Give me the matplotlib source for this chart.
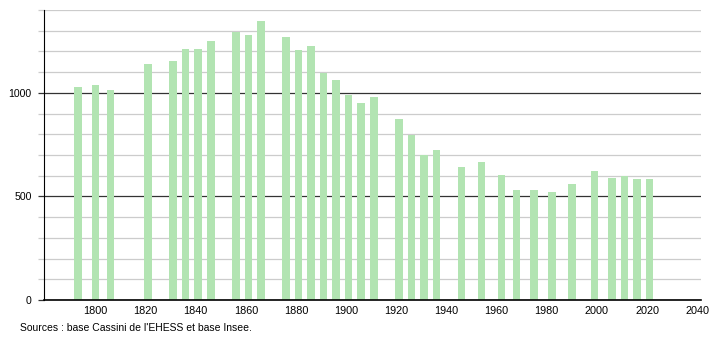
import matplotlib
matplotlib.use('Agg')
import matplotlib.pyplot as plt
from matplotlib.ticker import MultipleLocator

# Census years and population
years = [1793, 1800, 1806, 1821, 1831, 1836, 1841, 1846, 1856, 1861, 1866,
         1876, 1881, 1886, 1891, 1896, 1901, 1906, 1911, 1921, 1926, 1931,
         1936, 1946, 1954, 1962, 1968, 1975, 1982, 1990, 1999, 2006, 2011,
         2016, 2021]
population = [1029, 1040, 1013, 1137, 1156, 1213, 1213, 1248, 1292, 1277, 1345,
              1268, 1205, 1224, 1097, 1060, 992, 950, 982, 876, 798, 700,
              726, 642, 668, 605, 532, 532, 519, 558, 621, 590, 601,
              585, 585]

x_ticks = list(range(1800, 2041, 20))
y_ticks = [0, 500, 1000]
source = "Sources : base Cassini de l'EHESS et base Insee."

plt.rcParams['font.family'] = ['Liberation Sans', 'DejaVu Sans']

fig = plt.figure(figsize=(7.1, 3.4), dpi=100)
ax = fig.add_axes([44/710, 40/340, 657/710, 290/340])

ax.bar(years, population, width=3.0, color='#b2e4b2', zorder=2)

ax.set_xlim(1779.5, 2041.5)
ax.set_ylim(0, 1400)

# grid: light every 100, dark every 500
ax.yaxis.set_major_locator(MultipleLocator(500))
ax.yaxis.set_minor_locator(MultipleLocator(100))
ax.grid(True, which='minor', axis='y', color='#cccccc', linewidth=0.9)
ax.grid(True, which='major', axis='y', color='#333333', linewidth=0.9)
ax.set_axisbelow(True)
ax.set_yticks(y_ticks)
ax.tick_params(axis='y', which='major', length=4, width=0.9, color='#333333',
               labelsize=7.6, pad=5)
ax.tick_params(axis='y', which='minor', length=4, width=0.9, color='#cccccc')

ax.set_xticks(x_ticks)
ax.tick_params(axis='x', length=0, labelsize=7.8, pad=4)

for s in ['top', 'right']:
    ax.spines[s].set_visible(False)
ax.spines['left'].set_color('black')
ax.spines['bottom'].set_color('black')
ax.spines['bottom'].set_linewidth(1.2)

fig.text(20/710, 1 - 328/340, source, fontsize=7.45, va='center', ha='left')

fig.savefig('out.png', dpi=100)
